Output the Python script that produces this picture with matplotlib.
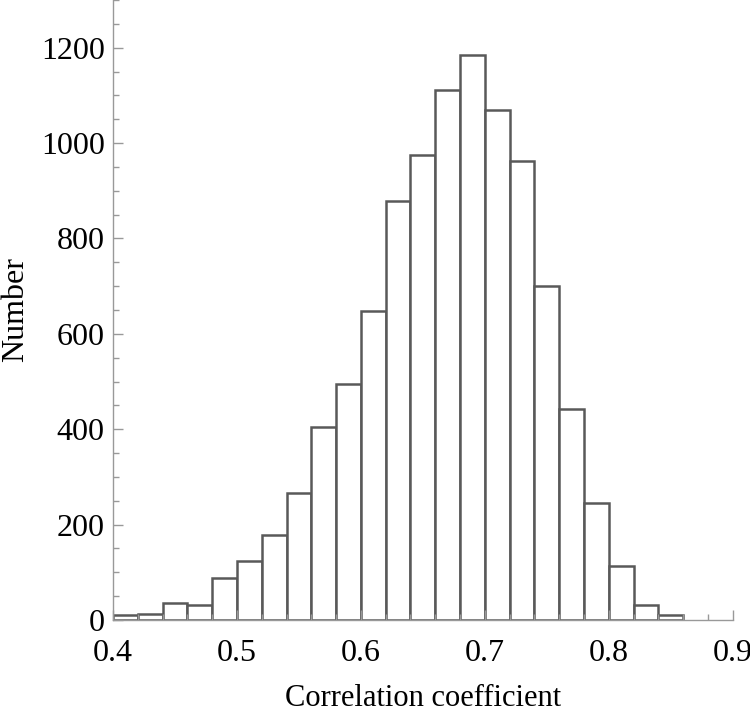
import numpy as np
import matplotlib
matplotlib.use("Agg")
import matplotlib.pyplot as plt
from matplotlib.ticker import MultipleLocator

plt.rcParams['font.family'] = ['Liberation Serif', 'DejaVu Serif']

# bin edges start at 0.40, width 0.02
bin_left = [0.40, 0.42, 0.44, 0.46, 0.48, 0.50, 0.52, 0.54, 0.56, 0.58, 0.60, 0.62,
            0.64, 0.66, 0.68, 0.70, 0.72, 0.74, 0.76, 0.78, 0.80, 0.82, 0.84]
counts = [10, 13, 35, 31, 88, 124, 178, 266, 404, 494, 647, 879,
          976, 1112, 1185, 1070, 963, 700, 443, 246, 113, 31, 10]
bin_width = 0.02

fig = plt.figure(figsize=(7.5, 7.12), dpi=100)
ax = fig.add_axes([0.1507, 0.1292, 0.8263, 0.8708])

ax.bar(bin_left, counts, width=bin_width, align='edge', facecolor='white',
       edgecolor='#595959', linewidth=1.8)

ax.set_xlim(0.4, 0.9)
ax.set_ylim(0, 1300)
ax.xaxis.set_major_locator(MultipleLocator(0.1))
ax.xaxis.set_minor_locator(MultipleLocator(0.02))
ax.yaxis.set_major_locator(MultipleLocator(200))
ax.yaxis.set_minor_locator(MultipleLocator(50))
ax.set_xticks([0.4, 0.5, 0.6, 0.7, 0.8, 0.9])
ax.set_xticklabels(['0.4', '0.5', '0.6', '0.7', '0.8', '0.9'])

for s in ['top', 'right']:
    ax.spines[s].set_visible(False)
for s in ['left', 'bottom']:
    ax.spines[s].set_color('#999999')
    ax.spines[s].set_linewidth(1.0)

ax.tick_params(which='major', direction='in', length=7, width=1, color='#999999',
               labelsize=23, labelcolor='black')
ax.tick_params(axis='y', which='major', pad=6)
ax.tick_params(axis='x', which='major', pad=14)
ax.tick_params(which='minor', direction='in', length=4, width=1, color='#999999')

ax.set_xlabel('Correlation coefficient', fontsize=22, va='center')
ax.xaxis.set_label_coords(0.5, -0.126)
ax.set_ylabel('Number', fontsize=23, va='center')
ax.yaxis.set_label_coords(-0.157, 0.5)

fig.savefig('out.png', dpi=100)
